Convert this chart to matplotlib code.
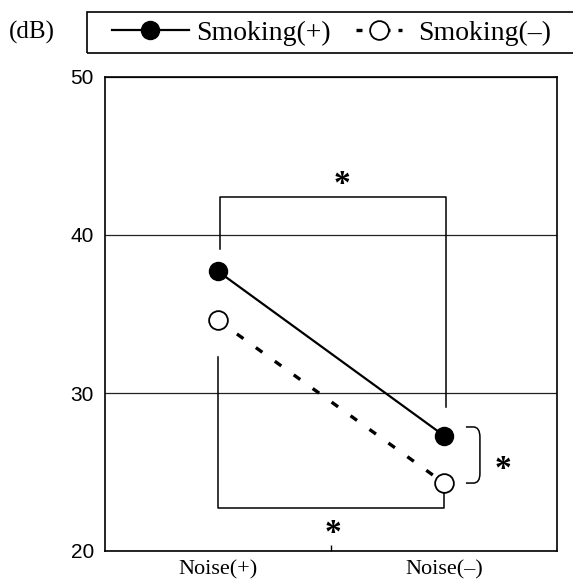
import numpy as np
import matplotlib.pyplot as plt
from matplotlib.lines import Line2D
from matplotlib.path import Path
from matplotlib.patches import PathPatch, Rectangle

# -----------------------------
# Data
# -----------------------------
categories = ['Noise(+)', 'Noise(–)']
series_labels = ['Smoking(+)', 'Smoking(–)']
smoking_pos = [37.7, 27.3]
smoking_neg = [34.6, 24.3]
y_ticks = [20, 30, 40, 50]

# significance brackets (dB): left leg end, bar level, right leg end
top_bracket = [39.1, 42.4, 29.1]
bottom_bracket = [32.3, 22.7, 23.9]
brace_span = [24.3, 27.85]

serif = 'Liberation Serif'
sans = 'Liberation Sans'

W, H = 573, 582
fig = plt.figure(figsize=(W / 100, H / 100), dpi=100)
ax = fig.add_axes([105 / W, 31 / H, 452 / W, 474 / H])

x = np.arange(len(categories))

# linhas das séries
ax.plot(x, smoking_pos, color='black', lw=1.6, marker='o', ms=13,
        mfc='black', mec='black', zorder=4)
neg_style = (0, (2.4, 4.6))
ax.plot(x, smoking_neg, color='black', lw=2.4, ls=neg_style, marker='o', ms=13.5,
        mfc='white', mec='black', mew=1.3, zorder=4)

# colchetes de significância
ax.plot([0.01, 0.01, 1.01, 1.01],
        [top_bracket[0], top_bracket[1], top_bracket[1], top_bracket[2]],
        color='black', lw=1.1, zorder=3)
ax.plot([0, 0, 1, 1],
        [bottom_bracket[0], bottom_bracket[1], bottom_bracket[1], bottom_bracket[2]],
        color='black', lw=1.1, zorder=3)

# chave lateral ")"
lo, hi = brace_span
verts = [(1.097, hi), (1.13, hi), (1.159, hi), (1.159, hi - 0.65),
         (1.159, lo + 0.6), (1.159, lo), (1.13, lo), (1.097, lo)]
codes = [Path.MOVETO, Path.LINETO, Path.CURVE3, Path.CURVE3,
         Path.LINETO, Path.CURVE3, Path.CURVE3, Path.LINETO]
ax.add_patch(PathPatch(Path(verts, codes), fill=False, ec='black', lw=1.1))

# asteriscos
for xs, ys in [(0.55, 42.65), (0.51, 20.6), (1.26, 24.6)]:
    ax.text(xs, ys, '*', fontsize=24, family=serif, fontweight='bold',
            ha='center', va='baseline')

# eixos
ax.set_xlim(-0.5, 1.5)
ax.set_ylim(20, 50)
ax.set_yticks(y_ticks)
ax.set_xticks(x, categories)
ax.set_xticks([0.5], minor=True)
ax.tick_params(axis='y', length=0, pad=8, labelsize=15)
ax.tick_params(axis='x', which='major', length=0, pad=7, labelsize=16)
ax.tick_params(axis='x', which='minor', direction='in', length=4, width=1)
for lab in ax.get_yticklabels():
    lab.set_family(sans)
for lab in ax.get_xticklabels():
    lab.set_family(serif)
ax.yaxis.grid(True, color='#222222', lw=0.9)
ax.set_axisbelow(True)
for s in ax.spines.values():
    s.set_linewidth(1.2)
    s.set_color('black')

# legenda com moldura cortada à direita
fig.add_artist(Rectangle((87 / W, 1 - 53 / H), 700 / W, 41 / H,
                         transform=fig.transFigure, fill=False,
                         ec='black', lw=1.2))
h1 = Line2D([], [], color='black', lw=1.6, marker='o', ms=13, mfc='black')
h2 = Line2D([], [], color='black', lw=2.4, ls=(0, (1.8, 2.4)), marker='o',
            ms=13.5, mfc='white', mec='black', mew=1.3)
leg_font = {'family': serif, 'size': 20}
fig.legend([h1], [series_labels[0]], loc='center left',
           bbox_to_anchor=(112 / W, 1 - 33 / H), frameon=False, borderpad=0,
           borderaxespad=0, handlelength=2.77, handletextpad=0.25,
           numpoints=1, prop=leg_font)
fig.legend([h2], [series_labels[1]], loc='center left',
           bbox_to_anchor=(356 / W, 1 - 33 / H), frameon=False, borderpad=0,
           borderaxespad=0, handlelength=1.65, handletextpad=0.6,
           numpoints=1, prop=leg_font)

fig.text(32 / W, 1 - 32 / H, '(dB)', fontsize=18, family=serif,
         ha='center', va='center')

fig.savefig('out.png', dpi=100)
